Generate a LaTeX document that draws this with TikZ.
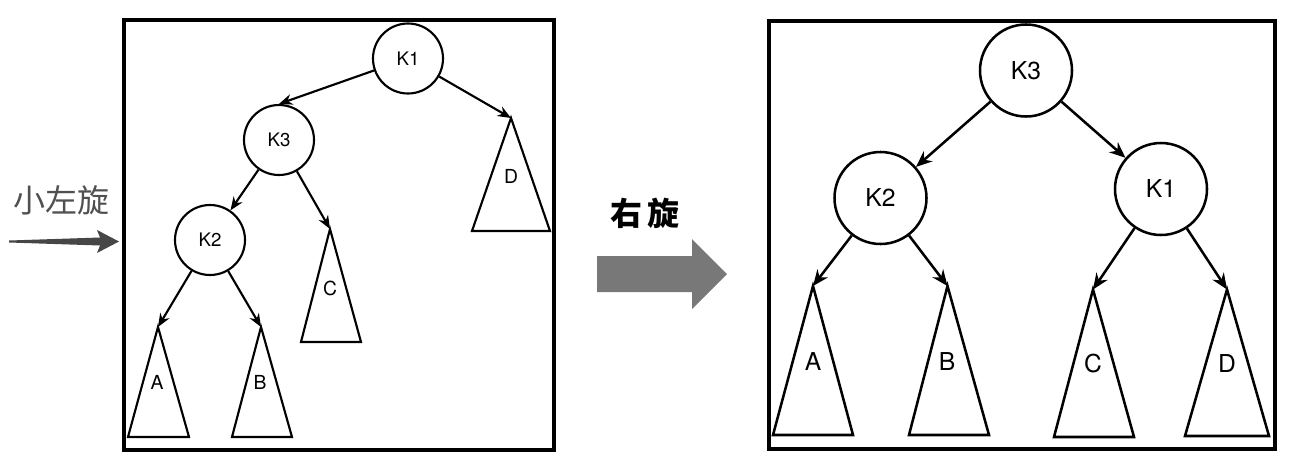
\documentclass[tikz,border=0pt]{standalone}
\usepackage{fontspec}
\setmainfont{TeX Gyre Heros}
\newfontfamily\cjk{Noto Sans CJK SC}
\usetikzlibrary{arrows.meta}
\definecolor{darkarrow}{RGB}{70,70,70}
\definecolor{midarrow}{RGB}{120,120,120}
\definecolor{lefttext}{RGB}{80,80,80}
\begin{document}
\begin{tikzpicture}[x=0.75pt,y=-0.75pt,
  lk/.style={circle,draw,line width=1.6pt,minimum size=52.5pt,inner sep=0pt,font=\fontsize{14}{16}\selectfont},
  rk/.style={circle,draw,line width=1.9pt,minimum size=69pt,inner sep=0pt,font=\fontsize{18.5}{21}\selectfont},
  ledge/.style={line width=1.6pt,-{Stealth[length=10pt,width=8pt]}},
  redge/.style={line width=1.9pt,-{Stealth[length=12pt,width=10pt]}},
  ltri/.style={draw,line width=1.6pt},
  rtri/.style={draw,line width=1.9pt},
  llab/.style={inner sep=0pt,font=\fontsize{14.5}{16}\selectfont},
  rlab/.style={inner sep=0pt,font=\fontsize{18.5}{21}\selectfont},
  panel/.style={draw,line width=3pt}
]
\useasboundingbox (0,0) rectangle (1290,458);
\fill[white] (0,0) rectangle (1290,458);

% panels
\draw[panel] (124,20) rectangle (554,450);
\draw[panel] (769,21) rectangle (1275,449);

% ---------- left tree ----------
\node[lk] (lK1) at (408,58.5) {K1};
\node[lk] (lK3) at (279,140) {K3};
\node[lk] (lK2) at (210,240) {K2};

\coordinate (lDt) at (511,118);
\draw[ltri] (lDt) -- (550,231) -- (472,231) -- cycle;
\node[llab] (lD) at (511,176) {D};

\coordinate (lCt) at (330,229);
\draw[ltri] (lCt) -- (361,342) -- (301,342) -- cycle;
\node[llab] (lC) at (330,288) {C};

\coordinate (lAt) at (158,327);
\draw[ltri] (lAt) -- (189,437) -- (128,437) -- cycle;
\node[llab] (lA) at (157,382) {A};

\coordinate (lBt) at (261,327);
\draw[ltri] (lBt) -- (292,437) -- (232,437) -- cycle;
\node[llab] (lB) at (260,382) {B};

\draw[ledge] (lK1) -- (lK3.north);
\draw[ledge] (lK1) -- (lDt);
\draw[ledge] (lK3) -- (lK2);
\draw[ledge] (lK3) -- (lCt);
\draw[ledge] (lK2) -- (lAt);
\draw[ledge] (lK2) -- (lBt);

% ---------- right tree ----------
\node[rk] (rK3) at (1026,70.5) {K3};
\node[rk] (rK2) at (880.5,198) {K2};
\node[rk] (rK1) at (1161,189) {K1};

\coordinate (rAt) at (813,286);
\draw[rtri] (rAt) -- (853,435) -- (773,435) -- cycle;
\node[rlab] (rA) at (813,362) {A};

\coordinate (rBt) at (947.5,286);
\draw[rtri] (rBt) -- (989,435) -- (909,435) -- cycle;
\node[rlab] (rB) at (947,362) {B};

\coordinate (rCt) at (1093,289.5);
\draw[rtri] (rCt) -- (1134,437) -- (1054,437) -- cycle;
\node[rlab] (rC) at (1093,364) {C};

\coordinate (rDt) at (1227,289.5);
\draw[rtri] (rDt) -- (1269,436) -- (1185,436) -- cycle;
\node[rlab] (rD) at (1227,364) {D};

\draw[redge] (rK3) -- (rK2);
\draw[redge] (rK3) -- (rK1);
\draw[redge] (rK2) -- (rAt);
\draw[redge] (rK2) -- (rBt);
\draw[redge] (rK1) -- (rCt);
\draw[redge] (rK1) -- (rDt);

% ---------- left label and arrow ----------
\node[inner sep=0pt,text=lefttext,font=\cjk\fontsize{24}{26}\selectfont] (small) at (61,200) {小左旋};
\fill[darkarrow] (9,240.5) -- (100,237.5) -- (97,230) -- (119,241.5) -- (97,253) -- (100,245.5) -- (9,242.5) -- cycle;

% ---------- middle label and arrow ----------
\node[inner sep=0pt,font=\cjk\bfseries\fontsize{24}{26}\selectfont] (rot) at (645,213) {右\hspace{4pt}旋};
\fill[midarrow] (597,256) -- (692,256) -- (692,239) -- (727,274) -- (692,309) -- (692,292) -- (597,292) -- cycle;
\end{tikzpicture}
\end{document}
